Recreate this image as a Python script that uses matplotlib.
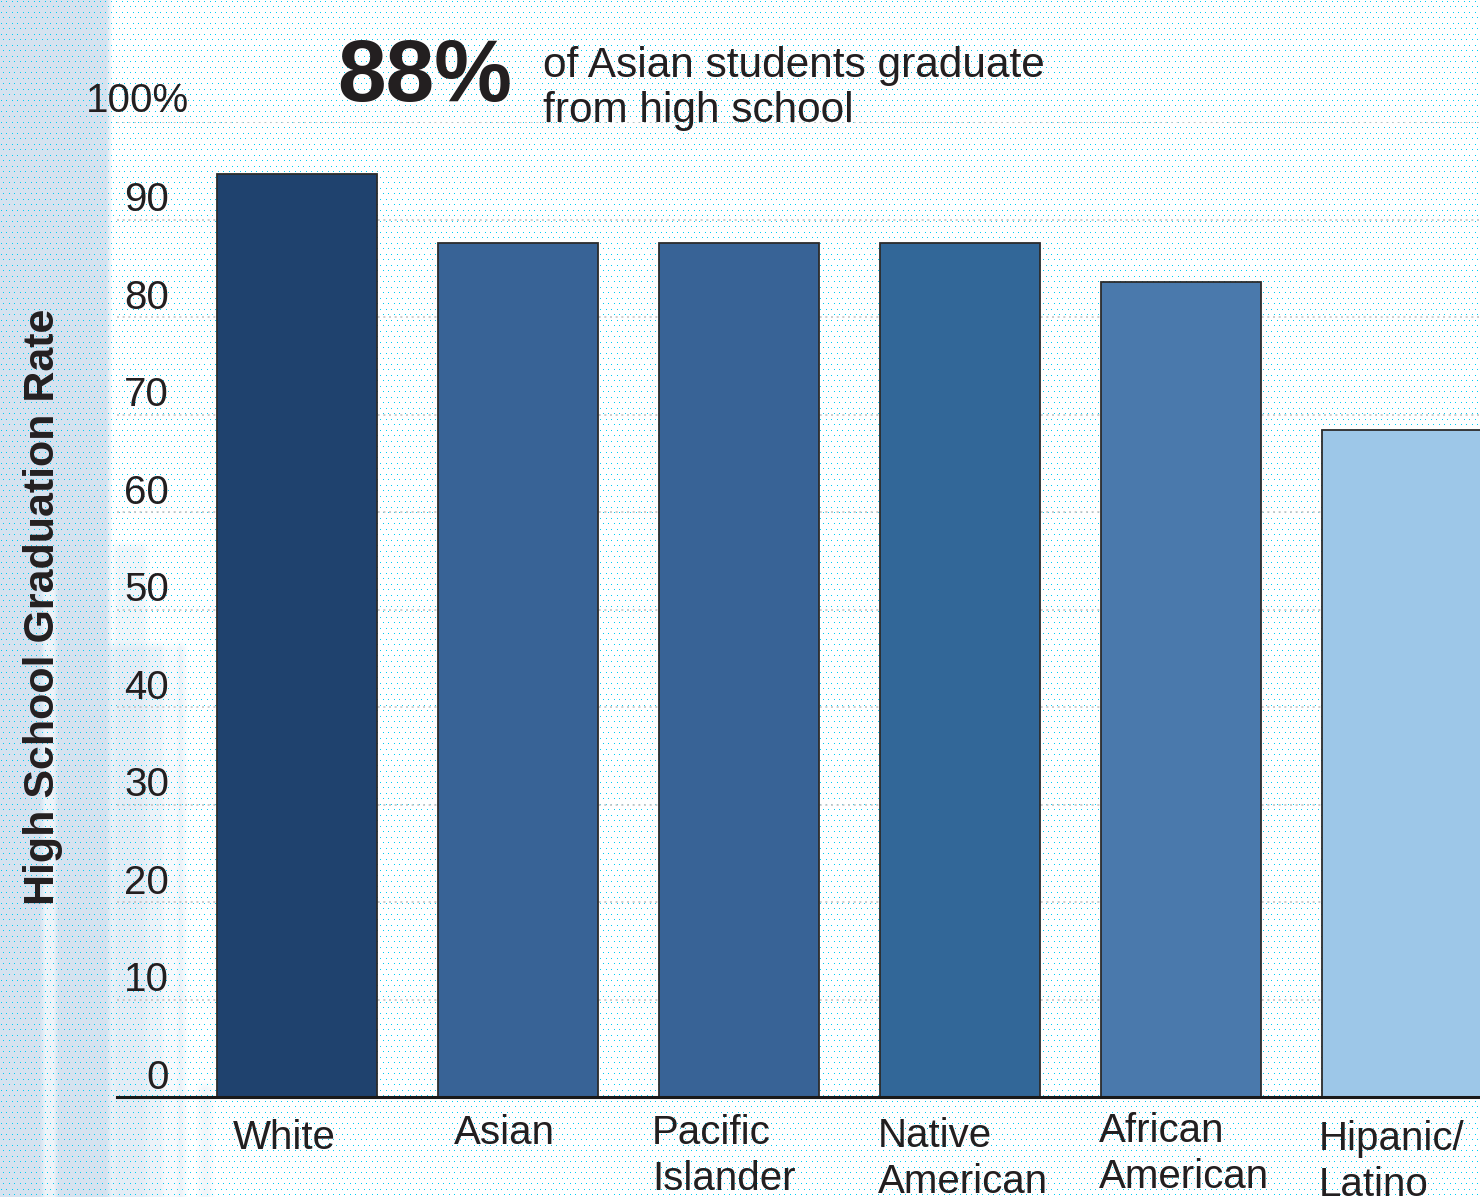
#!/usr/bin/env python3
import matplotlib
matplotlib.use("Agg")
import matplotlib.pyplot as plt
import matplotlib.transforms as mtransforms
import numpy as np

# data
groups = ["White", "Asian", "Pacific\nIslander", "Native\nAmerican", "African\nAmerican", "Hipanic/\nLatino"]
grad_rate = [94.7, 87.6, 87.6, 87.6, 83.6, 68.4]
bar_colors = ["#1f426e", "#386396", "#386396", "#326798", "#4a79ac", "#9dc7e8"]
y_ticks = [0, 10, 20, 30, 40, 50, 60, 70, 80, 90, 100]
tick_labels = ["0", "10", "20", "30", "40", "50", "60", "70", "80", "90", "100%"]
headline = "88%"
headline_note = "of Asian students graduate\nfrom high school"

W, H, DPI = 1480, 1197, 100
TEXT = "#231f20"
FONT = ["Liberation Sans", "DejaVu Sans"]
BAR_W = 0.724
# hand placement of the category labels (px from bar's left edge, px from top of figure)
LABEL_DX = [16, 16, -7, -2, -2, -3]
LABEL_TOP = [1119, 1114, 1114, 1117, 1112, 1120]


def _background() -> np.ndarray:
    img = np.ones((H, W, 3))
    band = np.array([0.84, 0.89, 0.94])
    # faded photo strip on the left
    xs = np.arange(W)
    fade = np.clip((112 - xs) / 6.0, 0, 1)
    img[:, :, :] = img * (1 - fade[None, :, None]) + band * fade[None, :, None]
    # faint, soft shapes in the lower left
    ys = np.arange(H)[:, None]
    for x0, x1, y0, a in [(62, 188, 640, 0.45), (110, 150, 540, 0.35), (195, 215, 1080, 0.3)]:
        mx = np.clip(np.minimum(xs - x0, x1 - xs) / 8.0, 0, 1)[None, :]
        my = np.clip((ys - y0) / 8.0, 0, 1)
        m = (mx * my * a)[:, :, None]
        img = img * (1 - m) + band * m
    for x0, x1 in [(40, 58), (160, 180)]:
        mx = np.clip(np.minimum(xs - x0, x1 - xs) / 5.0, 0, 1)[None, :]
        my = np.clip((ys - 560) / 30.0, 0, 1)
        m = (mx * my * 0.6)[:, :, None]
        img = img * (1 - m) + np.ones(3) * m
    # cyan dot screen
    dot = np.array([0.0, 0.80, 0.96])
    step = 5.5
    for row, y in enumerate(np.arange(1, H, step)):
        off = 0 if row % 2 == 0 else step / 2
        cols = np.arange(off + 1, W, step).astype(int)
        img[int(y), cols] = dot
    return img


fig = plt.figure(figsize=(W / DPI, H / DPI), dpi=DPI)
fig.figimage(_background(), xo=0, yo=0, origin="upper", zorder=0)

ax_left, ax_bottom = 117 / W, (H - 1097) / H
ax = fig.add_axes([ax_left, ax_bottom, 1 - ax_left, (1097 - 122) / H])
ax.set_zorder(2)
ax.patch.set_alpha(0)

x = np.arange(len(groups))
ax.bar(x, grad_rate, width=BAR_W, color=bar_colors, edgecolor="#2b2b2b", linewidth=1.3, zorder=3)
ax.set_xlim(-0.814, 5.353)
ax.set_ylim(0, 100)

for v in y_ticks[1:]:
    ax.axhline(v, color="#c4c4c4", linewidth=1.2, linestyle=(0, (1.2, 2.2)), zorder=1)
ax.axhline(0, color="#1a1a1a", linewidth=2.2, zorder=4, clip_on=False)

for s in ax.spines.values():
    s.set_visible(False)
ax.set_xticks([])
ax.set_yticks([])

# y tick labels sit just above their gridlines
ylab_tr = mtransforms.blended_transform_factory(fig.transFigure, ax.transData)
for v, lab in zip(y_ticks, tick_labels):
    if lab.endswith("%"):
        ax.text(86 / W, v, lab, transform=ylab_tr + mtransforms.ScaledTranslation(0, 7 / 72, fig.dpi_scale_trans),
                ha="left", va="baseline", fontsize=29, color=TEXT, family=FONT, clip_on=False)
    else:
        ax.text(169 / W, v, lab, transform=ylab_tr + mtransforms.ScaledTranslation(0, 6 / 72, fig.dpi_scale_trans),
                ha="right", va="baseline", fontsize=29, color=TEXT, family=FONT, clip_on=False)

# category labels under the bars
xlab_tr = mtransforms.blended_transform_factory(ax.transData, fig.transFigure)
px = 1 / 221.0
for xi, lab, dx, top in zip(x, groups, LABEL_DX, LABEL_TOP):
    ax.text(xi - BAR_W / 2 + dx * px, (H - top) / H, lab, transform=xlab_tr, ha="left", va="top",
            fontsize=29, color=TEXT, family=FONT, linespacing=1.27, clip_on=False)

fig.text(43 / W, (H - 607) / H, "High School Graduation Rate", rotation=90, ha="center", va="center",
         fontsize=31, fontweight="bold", color=TEXT, family=FONT, zorder=3)

fig.text(337 / W, (H - 101) / H, headline, ha="left", va="baseline", fontsize=63,
         fontweight="bold", color=TEXT, family=FONT, zorder=3)
fig.text(543 / W, (H - 122) / H, headline_note, ha="left", va="baseline", fontsize=30.5,
         color=TEXT, family=FONT, linespacing=1.15, zorder=3)

fig.savefig("out.png", dpi=DPI)
